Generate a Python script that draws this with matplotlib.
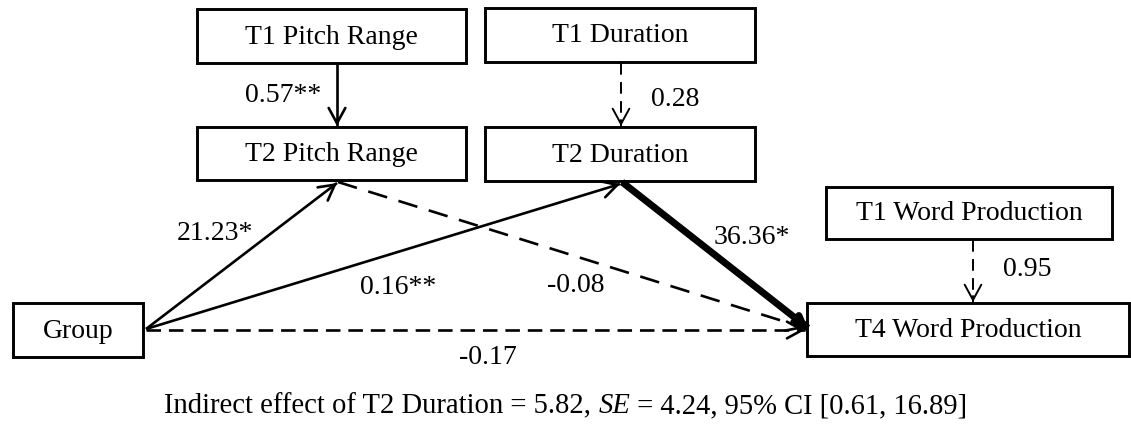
import matplotlib
matplotlib.use("Agg")
import matplotlib.pyplot as plt
import numpy as np
from matplotlib.patches import Rectangle

plt.rcParams['font.family'] = ['Liberation Serif', 'DejaVu Serif']

# * Diagram content
node_names = ["T1 Pitch Range", "T2 Pitch Range", "T1 Duration", "T2 Duration",
              "Group", "T1 Word Production", "T4 Word Production"]
path_from = ["T1 Pitch Range", "T1 Duration", "Group", "Group", "Group",
             "T2 Pitch Range", "T2 Duration", "T1 Word Production"]
path_to = ["T2 Pitch Range", "T2 Duration", "T2 Pitch Range", "T2 Duration",
           "T4 Word Production", "T4 Word Production", "T4 Word Production",
           "T4 Word Production"]
path_coef = ["0.57**", "0.28", "21.23*", "0.16**", "-0.17", "-0.08", "36.36*", "0.95"]
caption_parts = ["Indirect effect of T2 Duration = 5.82, ", "SE", " = 4.24, 95% CI [0.61, 16.89]"]

# * Layout (pixel coords, y down): box x0, x1, y0, y1
boxes = {
    "T1 Pitch Range": (197, 466, 9, 63),
    "T2 Pitch Range": (197, 466, 127, 180),
    "T1 Duration": (485, 755, 8, 62),
    "T2 Duration": (485, 755, 127, 181),
    "Group": (13, 143, 303, 357),
    "T1 Word Production": (826, 1112, 187, 239),
    "T4 Word Production": (807, 1129, 303, 356),
}
# start point, end point, line style, width, head scale, label position
path_geom = [
    ((337, 64), (337, 126), 'solid', 1.9, 20, (283, 95)),
    ((621, 63), (621, 126), (0, (6, 3.8)), 1.4, 20, (675, 100)),
    ((146, 329), (337, 183), 'solid', 1.9, 20, (215, 233)),
    ((146, 329), (620, 184), 'solid', 1.9, 20, (398, 288)),
    ((146, 330), (805, 330), (0, (5.5, 3)), 1.9, 20, (488, 358)),
    ((338, 182), (805, 328), (0, (7.5, 4.5)), 1.9, 20, (576, 285)),
    ((622, 182), (808, 328), 'solid', 5.0, 10, (752, 237)),
    ((973, 240), (973, 302), (0, (6, 3.8)), 1.4, 20, (1027, 270)),
]

fig = plt.figure(figsize=(11.31, 4.30), dpi=100)
ax = fig.add_axes([0, 0, 1, 1])
ax.set_xlim(0, 1131)
ax.set_ylim(430, 0)
ax.axis('off')

fs = 20

for name in node_names:
    x0, x1, y0, y1 = boxes[name]
    ax.add_patch(Rectangle((x0, y0), x1 - x0, y1 - y0, fill=False,
                           edgecolor='black', linewidth=2.1, zorder=3))
    ax.text((x0 + x1) / 2, (y0 + y1) / 2 + 1, name, ha='center', va='center',
            fontsize=fs, zorder=4)

for src, dst, coef, geom in zip(path_from, path_to, path_coef, path_geom):
    start, end, ls, lw, ms, lab = geom
    # shaft (dashed or solid) drawn on its own so the head stays solid
    ax.plot([start[0], end[0]], [start[1], end[1]], color='black',
            linewidth=lw, linestyle=ls, solid_capstyle='butt', zorder=2)
    d = np.array(end, float) - np.array(start, float)
    d /= np.hypot(*d)
    back = np.array(end, float) - d * 6
    ax.annotate("", xy=end, xytext=tuple(back),
                arrowprops=dict(arrowstyle="->,head_length=0.55,head_width=0.3",
                                color='black', linewidth=lw,
                                mutation_scale=ms, shrinkA=0, shrinkB=0),
                zorder=2)
    ax.text(lab[0], lab[1], coef, ha='center', va='center', fontsize=fs)

# caption with italic SE
cap_y = 406
cap_fs = 20.6
t1 = ax.text(0, cap_y, caption_parts[0], fontsize=cap_fs, va='center', ha='left')
t2 = ax.text(0, cap_y, caption_parts[1], fontsize=cap_fs, va='center', ha='left', style='italic')
t3 = ax.text(0, cap_y, caption_parts[2], fontsize=cap_fs, va='center', ha='left')
fig.canvas.draw()
r = fig.canvas.get_renderer()
inv = ax.transData.inverted()
widths = []
for t in (t1, t2, t3):
    bb = t.get_window_extent(r)
    p0 = inv.transform((bb.x0, bb.y0))
    p1 = inv.transform((bb.x1, bb.y0))
    widths.append(p1[0] - p0[0])
x = 566 - sum(widths) / 2
for t, w in zip((t1, t2, t3), widths):
    t.set_x(x)
    x += w

fig.savefig("out.png", dpi=100)
